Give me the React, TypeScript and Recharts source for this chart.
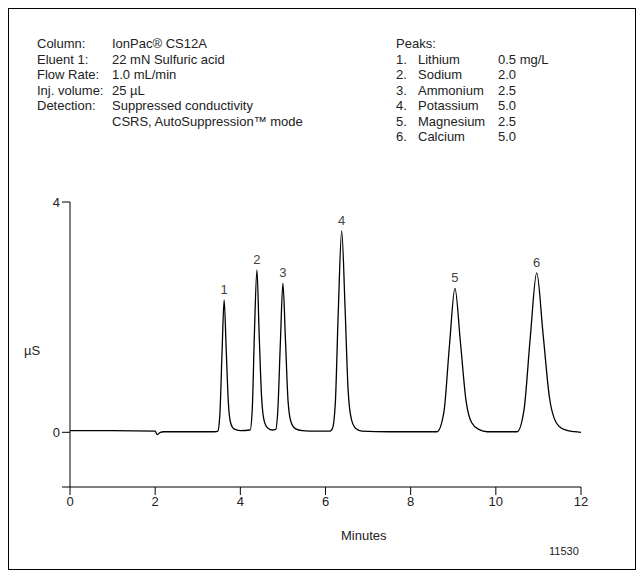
import { LineChart, Line, XAxis, YAxis, ReferenceDot } from 'recharts'

const times = [0, 1, 2, 2.05, 2.12, 2.2, 3, 3.4,
  3.47, 3.52, 3.57, 3.62, 3.67, 3.72, 3.77, 3.85,
  4.0, 4.23, 4.28, 4.33, 4.39, 4.44, 4.5, 4.56, 4.65, 4.75,
  4.83, 4.88, 4.94, 5.0, 5.06, 5.12, 5.19, 5.3, 5.45,
  5.8, 6.1, 6.16, 6.23, 6.3, 6.38, 6.46, 6.53, 6.61, 6.72, 6.85,
  7.5, 8.3, 8.62, 8.78, 8.91, 9.04, 9.17, 9.3, 9.43, 9.6, 9.8,
  10.2, 10.5, 10.66, 10.81, 10.96, 11.11, 11.26, 11.41, 11.6, 11.85, 12]
const signal = [0.03, 0.03, 0.02, -0.04, 0.0, 0.01, 0.01, 0.01,
  0.02, 0.32, 1.38, 2.3, 1.4, 0.5, 0.17, 0.06,
  0.03, 0.04, 0.4, 1.7, 2.82, 1.75, 0.6, 0.2, 0.07, 0.04,
  0.05, 0.38, 1.55, 2.59, 1.6, 0.55, 0.18, 0.06, 0.03,
  0.02, 0.02, 0.06, 0.5, 2.1, 3.5, 2.15, 0.75, 0.22, 0.06, 0.02,
  0.01, 0.01, 0.01, 0.35, 1.5, 2.5, 1.55, 0.55, 0.17, 0.05, 0.01,
  0.01, 0.01, 0.38, 1.66, 2.77, 1.7, 0.6, 0.18, 0.05, 0.01, 0.0]

const peakTimes = [3.62, 4.39, 5.0, 6.38, 9.04, 10.96]
const peakHeights = [2.3, 2.82, 2.59, 3.5, 2.5, 2.77]
const peakLabels = ['1', '2', '3', '4', '5', '6']

const conditionLabels = ['Column:', 'Eluent 1:', 'Flow Rate:', 'Inj. volume:', 'Detection:', '']
const conditionValues = ['IonPac® CS12A', '22 mN Sulfuric acid', '1.0 mL/min', '25 µL', 'Suppressed conductivity', 'CSRS, AutoSuppression™ mode']
const peakNames = ['Lithium', 'Sodium', 'Ammonium', 'Potassium', 'Magnesium', 'Calcium']
const peakAmounts = ['0.5 mg/L', '2.0', '2.5', '5.0', '2.5', '5.0']

const xTicks = [0, 2, 4, 6, 8, 10, 12]
const yTicks = [-0.95, 0, 4]

const data = times.map((t, i) => ({ t, v: signal[i] }))

const font = "'Liberation Sans Narrow', 'Liberation Sans', Arial, sans-serif"
const ink = '#222'
const lineH = 15.5

export default function App() {
  return (
    <div style={{ position: 'relative', width: 626, height: 560, border: '1px solid #000', fontFamily: font, color: ink, fontSize: 13 }}>
      {conditionLabels.map((l, i) => (
        <div key={'l' + i} style={{ position: 'absolute', left: 28, top: 27 + i * lineH }}>{l}</div>
      ))}
      {conditionValues.map((l, i) => (
        <div key={'v' + i} style={{ position: 'absolute', left: 103, top: 27 + i * lineH }}>{l}</div>
      ))}
      <div style={{ position: 'absolute', left: 387, top: 27 }}>Peaks:</div>
      {peakNames.map((n, i) => (
        <div key={'p' + i}>
          <div style={{ position: 'absolute', left: 387, top: 27 + (i + 1) * lineH }}>{i + 1}.</div>
          <div style={{ position: 'absolute', left: 409, top: 27 + (i + 1) * lineH }}>{n}</div>
          <div style={{ position: 'absolute', left: 489, top: 27 + (i + 1) * lineH }}>{peakAmounts[i]}</div>
        </div>
      ))}
      <div style={{ position: 'absolute', left: 15, top: 334 }}>µS</div>
      <div style={{ position: 'absolute', left: 332, top: 519 }}>Minutes</div>
      <div style={{ position: 'absolute', left: 540, top: 536, fontSize: 11 }}>11530</div>
      <div style={{ position: 'absolute', left: 0, top: 0 }}>
        <LineChart width={626} height={560} data={data} margin={{ top: 193, right: 54, bottom: 52, left: 60 }}>
          <XAxis dataKey="t" type="number" domain={[0, 12]} ticks={xTicks} stroke="#000"
            tickSize={8} tick={{ fill: ink, fontSize: 13, fontFamily: font }} height={30} />
          <YAxis type="number" domain={[-0.95, 4]} ticks={yTicks} stroke="#000" width={1}
            tickSize={8} tickFormatter={(v) => (v === -0.95 ? '' : String(v))}
            tick={{ fill: ink, fontSize: 13, fontFamily: font }} />
          <Line dataKey="v" type="monotone" stroke="#000" strokeWidth={1.3} dot={false} isAnimationActive={false} />
          {peakTimes.map((t, i) => (
            <ReferenceDot key={i} x={t} y={peakHeights[i]} r={0} stroke="none"
              label={{ value: peakLabels[i], position: 'top', offset: 6, fill: '#444', fontSize: 13, fontFamily: font }} />
          ))}
        </LineChart>
      </div>
    </div>
  )
}
